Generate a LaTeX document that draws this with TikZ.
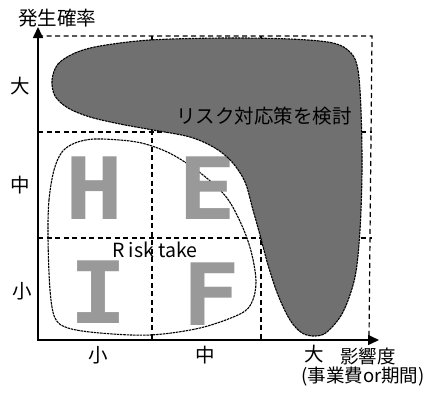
\documentclass[tikz,border=0pt]{standalone}
\usepackage{fontspec}
\setmainfont{Noto Sans CJK JP}
\newfontfamily\bigletter{DejaVu Sans Mono}
\usetikzlibrary{arrows.meta}
\definecolor{shapefill}{RGB}{112,112,112}
\definecolor{lettergray}{RGB}{153,153,153}
\begin{document}
\begin{tikzpicture}[x=1pt,y=-1pt,
  gridline/.style={dash pattern=on 5pt off 3.5pt, line width=1.2pt},
  outline/.style={dash pattern=on 2.5pt off 0.8pt, line width=1.1pt},
  axis/.style={line width=1.5pt},
  lbl/.style={font=\fontsize{19.5}{20}\selectfont, inner sep=0pt},
  smalllbl/.style={font=\fontsize{18.5}{19}\selectfont, inner sep=0pt},
  big/.style={font=\fontsize{86}{86}\bigletter\bfseries, text=lettergray, inner sep=0pt, xscale=1.12}
]
\useasboundingbox (0,0) rectangle (446,394);
% grid
\draw[gridline] (38,36) -- (372,36) -- (369,338);
\draw[gridline] (38,132) -- (372,132);
\draw[gridline] (38,238) -- (372,238);
\draw[gridline] (152,36) -- (152,340);
\draw[gridline] (261,36) -- (261,340);
% risk take loop
\draw[outline] plot[smooth cycle, tension=0.55] coordinates {
 (48,237) (49,200) (54,170) (62,152) (75,143) (95,139) (130,141) (152,146)
 (175,156) (203,175) (227,198) (243,228) (252,255) (256,282) (252,302)
 (240,314) (200,328) (150,335) (100,333) (68,328) (55,318) (50,290)};
% letters
\node[big] (H) at (94,188.5) {H};
\node[big] (E) at (207.5,188.5) {E};
\node[big] (I) at (98.5,292.5) {I};
\node[big] (F) at (211,294) {F};
% dark region
\draw[outline, fill=shapefill] plot[smooth cycle, tension=0.55] coordinates {
 (52,80) (58,64) (75,53) (100,46) (150,40) (223,38) (290,39) (333,43)
 (351,53) (358,70) (361,110) (362,170) (360,230) (355,277) (343,312)
 (327,332) (315,336) (302,333) (290,320) (278,295) (268,265) (260,235)
 (253,210) (245,182) (232,162) (215,148) (190,137) (153,130) (120,124)
 (90,117) (68,108) (55,96)};
% texts
\node[lbl] (act) at (264,116) {リスク対応策を検討};
\node[lbl] (rt) at (155,250) {R\kern4pt isk take};
\node[lbl] (ylab) at (57,18) {発生確率};
\node[lbl] (yb) at (20,86) {大};
\node[lbl] (ym) at (20,185) {中};
\node[lbl] (ys) at (22,291) {小};
\node[lbl] (xs) at (98,355) {小};
\node[lbl] (xm) at (205,355) {中};
\node[lbl] (xb) at (314,354) {大};
\node[smalllbl] (xlab) at (368,356) {影響度};
\node[smalllbl] (xlab2) at (363,377) {(事業費or期間)};
% axes
\coordinate (O) at (38,340);
\coordinate (Ytop) at (38,27);
\coordinate (Xend) at (379,340);
\draw[axis,{Triangle[length=11pt,width=10pt]}-{Triangle[length=11pt,width=10pt]}] (Ytop) -- (O) -- (Xend);
\end{tikzpicture}
\end{document}
